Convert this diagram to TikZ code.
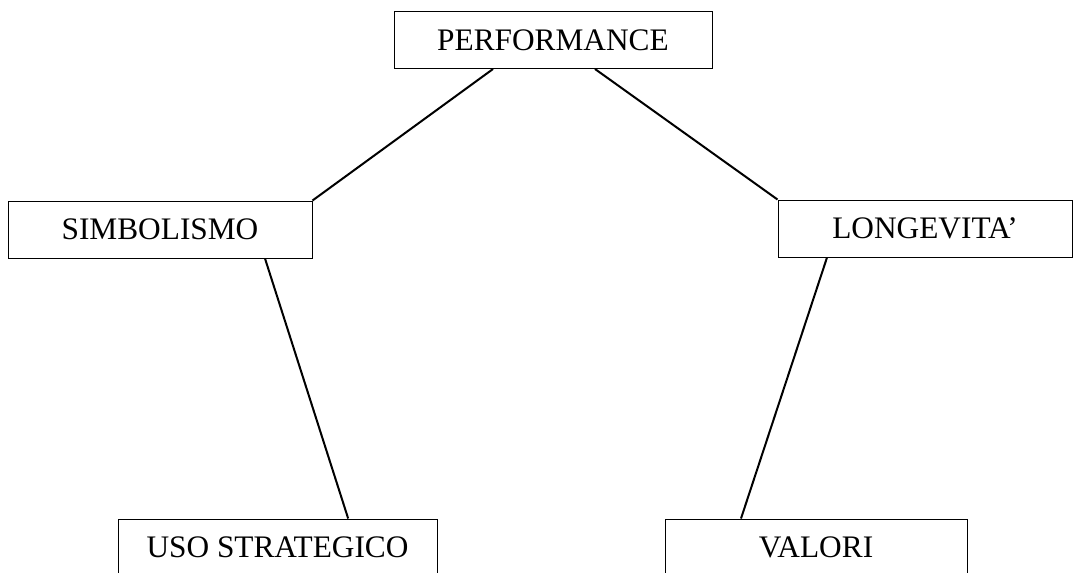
\documentclass[tikz,border=0pt]{standalone}
\usepackage{fontspec}
\setmainfont{Liberation Serif}
\usetikzlibrary{positioning}

\begin{document}
\begin{tikzpicture}[x=0.75pt,y=-0.75pt,
    box/.style={draw, line width=0.75pt, font=\fontsize{23.5}{28}\selectfont,
      minimum height=42.75pt, inner sep=0pt},
    link/.style={line width=1.5pt}]
  \clip (0,0) rectangle (1073,572);
  \node[box, minimum width=238.5pt] (perf) at (553,40) {PERFORMANCE};
  \node[box, minimum width=228pt] (simb) at (160,229.5) {SIMBOLISMO};
  \node[box, minimum width=220.5pt] (longev) at (925,228.5) {LONGEVITA'};
  \node[box, minimum width=239.25pt] (uso) at (277.5,547.5) {USO STRATEGICO};
  \node[box, minimum width=226.5pt] (valori) at (816,547.5) {VALORI};
  \path[link]
    ([xshift=-45pt]perf.south) edge (simb.north east)
    ([xshift=31.5pt]perf.south) edge (longev.north west);
  \path[link]
    ([xshift=78.75pt]simb.south) edge ([xshift=53pt]uso.north)
    ([xshift=-73.5pt]longev.south) edge ([xshift=-56.25pt]valori.north);
\end{tikzpicture}
\end{document}
